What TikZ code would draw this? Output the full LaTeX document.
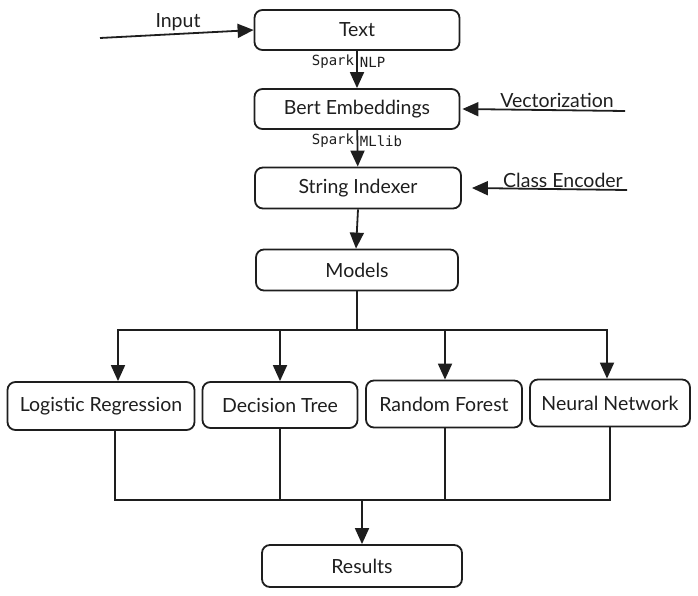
\documentclass[tikz,border=0pt]{standalone}
\usepackage{fontspec}
\setmainfont{Lato}
\setmonofont{DejaVu Sans Mono}
\usetikzlibrary{arrows.meta,calc,positioning}
\tikzset{pin/.style={-{Triangle[length=16pt,width=14pt]}},
  blk/.style={draw, line width=1.8pt, rounded corners=8pt, font=\fontsize{19.5}{22}\selectfont, align=center},
  lab/.style={font=\fontsize{19.5}{22}\selectfont},
  lib/.style={font=\ttfamily\fontsize{14}{16}\selectfont, inner sep=2pt}}

\begin{document}
\begin{tikzpicture}[x=1pt, y=-1pt, line width=1.8pt, color={rgb,255:red,30;green,30;blue,30}]
  \useasboundingbox (0,0) rectangle (698,596);
  % pipeline
  \node[blk, minimum width=205pt, minimum height=40pt] (text) at (357,30) {Text};
  \node[blk, minimum width=205pt, minimum height=40pt] (bert) at (357,109) {Bert Embeddings};
  \node[blk, minimum width=206pt, minimum height=41pt] (idx) at (358,188) {String Indexer};
  \node[blk, minimum width=202pt, minimum height=41pt] (models) at (357,270) {Models};
  % models
  \node[blk, minimum width=187pt, minimum height=48pt, inner sep=1pt] (lr) at (101,406) {Logistic Regression};
  \node[blk, minimum width=155pt, minimum height=46pt] (dt) at (280,405) {Decision Tree};
  \node[blk, minimum width=156pt, minimum height=47pt] (rf) at (444,404) {Random Forest};
  \node[blk, minimum width=160pt, minimum height=47pt, inner sep=1pt] (nn) at (610,403) {Neural Network};
  \node[blk, minimum width=200pt, minimum height=42pt] (res) at (362,566) {Results};
  % inputs
  \coordinate (inp) at (100,38);
  \coordinate (vec) at (625,111);
  \coordinate (enc) at (627,190);
  \draw[pin] (inp) -- (text.west);
  \node[lab] (inplab) at (178,22) {Input};
  \draw[pin] (vec) -- ([xshift=2pt]bert.east);
  \node[lab] (veclab) at (557,100) {Vectorization};
  \draw[pin] (enc) -- ([xshift=10pt]idx.east);
  \node[lab] (enclab) at (563,180) {Class Encoder};
  % flow
  \draw[pin] (text) -- (bert);
  \node[lib, anchor=east] (s1) at (357,62) {Spark};
  \node[lib, anchor=west] (n1) at (357,62) {NLP};
  \draw[pin] (bert) -- (idx);
  \node[lib, anchor=east] (s2) at (357,141) {Spark};
  \node[lib, anchor=west] (m2) at (357,141) {MLlib};
  \draw[pin] (idx.south) -- ([xshift=-1pt]models.north);
  % fork to models
  \coordinate (fork) at (357,330);
  \draw (models.south) -- (fork);
  \draw[pin] (fork) -| ([xshift=17pt]lr.north);
  \draw[pin] (fork) -| (dt.north);
  \draw[pin] (fork) -| ([xshift=1pt]rf.north);
  \draw[pin] (fork) -| ([xshift=-3pt]nn.north);
  % join to results
  \coordinate (join) at (362,500);
  \draw ([xshift=14pt]lr.south) |- (join);
  \draw (dt.south) |- (join);
  \draw ([xshift=1pt]rf.south) |- (join);
  \draw ([xshift=0pt]nn.south) |- (join);
  \draw[pin] (join) -- (res.north);
\end{tikzpicture}
\end{document}
